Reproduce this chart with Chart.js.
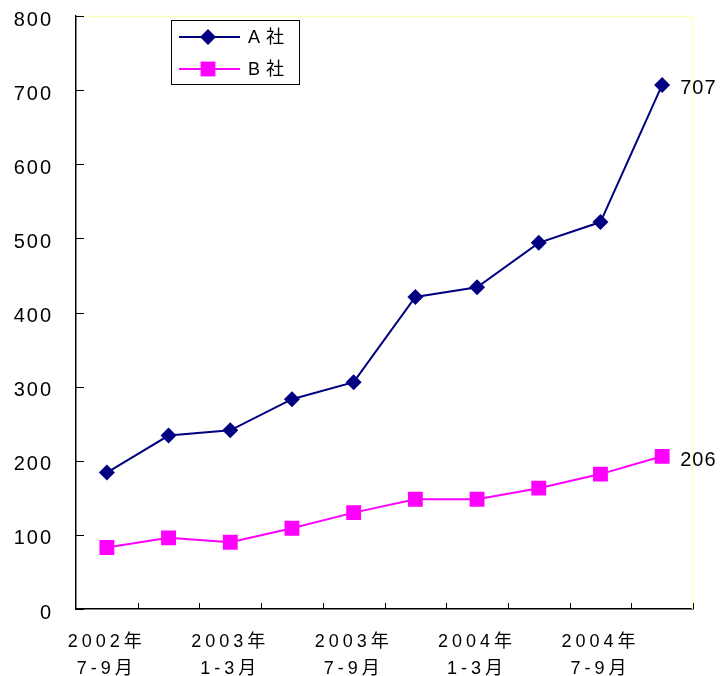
<!DOCTYPE html>
<html>
<head>
<meta charset="utf-8">
<script src="https://cdn.jsdelivr.net/npm/chart.js@4/dist/chart.umd.min.js"></script>
<style>
  html, body { margin: 0; padding: 0; background: #fff; }
  #wrap { width: 720px; height: 676px; position: relative; }
</style>
</head>
<body>
<div id="wrap"><canvas id="c"></canvas></div>
<script>
// Quarterly figures for the two companies
const quarters = [
  ['2002年', '7-9月'], ['2002年', '10-12月'],
  ['2003年', '1-3月'], ['2003年', '4-6月'],
  ['2003年', '7-9月'], ['2003年', '10-12月'],
  ['2004年', '1-3月'], ['2004年', '4-6月'],
  ['2004年', '7-9月'], ['2004年', '10-12月']
];
const seriesNames = ['A社', 'B社'];
const companyA = [184, 234, 241, 283, 306, 421, 434, 494, 522, 707];
const companyB = [83, 96, 90, 109, 130, 148, 148, 163, 182, 206];
const yTicks = [0, 100, 200, 300, 400, 500, 600, 700, 800];

const FONT = "'Liberation Sans', 'Noto Sans CJK JP', sans-serif";
const NAVY = '#000080';
const MAGENTA = '#ff00ff';

// Draw a scale's labels with a given letter spacing
function spaceLabels(scale, spacing) {
  if (scale._spaced) return;
  scale._spaced = true;
  const orig = scale.drawLabels.bind(scale);
  scale.drawLabels = function (area) {
    const ctx = this.ctx;
    const prev = ctx.letterSpacing;
    ctx.letterSpacing = spacing;
    orig(area);
    ctx.letterSpacing = prev;
  };
}

// Inward tick marks, frame, legend and end labels
const decor = {
  id: 'decor',
  beforeDatasetsDraw(chart) {
    const { ctx, chartArea: a, scales } = chart;
    ctx.save();
    // light frame on top and right
    ctx.strokeStyle = '#ffffc0';
    ctx.lineWidth = 1.5;
    ctx.beginPath();
    ctx.moveTo(a.left, a.top + 0.5);
    ctx.lineTo(a.right - 0.5, a.top + 0.5);
    ctx.lineTo(a.right - 0.5, a.bottom);
    ctx.stroke();
    // inward ticks
    ctx.strokeStyle = '#000';
    ctx.lineWidth = 1;
    ctx.beginPath();
    yTicks.forEach(v => {
      const y = Math.round(scales.y.getPixelForValue(v)) + 0.5;
      ctx.moveTo(a.left, y);
      ctx.lineTo(a.left + 8, y);
    });
    const xs = scales.x;
    for (let i = 1; i <= quarters.length; i++) {
      let x;
      if (i === quarters.length) x = a.right;
      else x = (xs.getPixelForValue(i - 1) + xs.getPixelForValue(i)) / 2;
      x = Math.round(x) + 0.5;
      ctx.moveTo(x, a.bottom);
      ctx.lineTo(x, a.bottom - 6);
    }
    ctx.stroke();
    ctx.restore();
  },
  afterDatasetsDraw(chart) {
    const { ctx } = chart;
    ctx.save();
    ctx.letterSpacing = '1px';
    // value labels at the last point of each series
    ctx.font = '20px ' + FONT;
    ctx.fillStyle = '#000';
    ctx.textAlign = 'left';
    ctx.textBaseline = 'middle';
    chart.data.datasets.forEach((ds, di) => {
      const meta = chart.getDatasetMeta(di);
      const last = meta.data[meta.data.length - 1];
      ctx.fillText(String(ds.data[ds.data.length - 1]), last.x + 18, last.y + 4);
    });
    // legend box
    const bx = 171, by = 20, bw = 128, bh = 64;
    ctx.strokeStyle = '#000';
    ctx.lineWidth = 1;
    ctx.strokeRect(bx + 0.5, by + 0.5, bw, bh);
    ctx.font = '18px ' + FONT;
    ctx.letterSpacing = '6px';
    chart.data.datasets.forEach((ds, di) => {
      const y = by + 17 + di * 32;
      ctx.strokeStyle = ds.borderColor;
      ctx.lineWidth = 2;
      ctx.beginPath();
      ctx.moveTo(bx + 8, y);
      ctx.lineTo(bx + 69, y);
      ctx.stroke();
      ctx.fillStyle = ds.pointBackgroundColor;
      ctx.beginPath();
      if (ds.pointStyle === 'rectRot') {
        const r = ds.pointRadius;
        ctx.moveTo(bx + 37, y - r); ctx.lineTo(bx + 37 + r, y);
        ctx.lineTo(bx + 37, y + r); ctx.lineTo(bx + 37 - r, y);
      } else {
        const h = ds.pointRadius * Math.SQRT1_2;
        ctx.rect(bx + 37 - h, y - h, 2 * h, 2 * h);
      }
      ctx.closePath();
      ctx.fill();
      ctx.fillStyle = '#000';
      ctx.textAlign = 'left';
      ctx.textBaseline = 'middle';
      ctx.fillText(ds.label, bx + 77, y + 1);
    });
    ctx.restore();
  }
};

new Chart(document.getElementById('c'), {
  type: 'line',
  data: {
    labels: quarters,
    datasets: [
      {
        label: seriesNames[0], data: companyA,
        borderColor: NAVY, backgroundColor: NAVY,
        pointBackgroundColor: NAVY, pointBorderColor: NAVY, pointBorderWidth: 0,
        pointStyle: 'rectRot', pointRadius: 8, borderWidth: 2, tension: 0
      },
      {
        label: seriesNames[1], data: companyB,
        borderColor: MAGENTA, backgroundColor: MAGENTA,
        pointBackgroundColor: MAGENTA, pointBorderColor: MAGENTA, pointBorderWidth: 0,
        pointStyle: 'rect', pointRadius: 10.5, borderWidth: 2, tension: 0
      }
    ]
  },
  options: {
    responsive: true,
    maintainAspectRatio: false,
    animation: false,
    devicePixelRatio: 1,
    layout: { padding: { top: 16, right: 27, left: 0, bottom: 0 } },
    plugins: { legend: { display: false }, tooltip: { enabled: false } },
    scales: {
      x: {
        offset: true,
        grid: { display: false, offset: true },
        border: { display: true, color: '#000', width: 1.5 },
        ticks: {
          autoSkip: false, maxRotation: 0, minRotation: 0,
          padding: 12, color: '#000',
          font: { family: FONT, size: 18, lineHeight: 1.5 },
          callback(value, index) { return index % 2 === 0 ? quarters[index] : ''; }
        },
        afterFit(scale) {
          scale.height = 67;
          scale.paddingLeft = 0; scale.paddingRight = 0;
          scale.paddingTop = 0; scale.paddingBottom = 0;
        },
        afterUpdate(scale) { spaceLabels(scale, '4px'); }
      },
      y: {
        min: 0, max: 800,
        grid: { display: false },
        border: { display: true, color: '#000', width: 1.5 },
        afterBuildTicks(scale) { scale.ticks = yTicks.map(v => ({ value: v })); },
        ticks: {
          padding: 15, color: '#000', labelOffset: 4,
          font: { family: FONT, size: 20 }
        },
        afterFit(scale) {
          scale.width = 76;
          scale.paddingTop = 0; scale.paddingBottom = 0;
          scale.paddingLeft = 0; scale.paddingRight = 0;
        },
        afterUpdate(scale) { spaceLabels(scale, '2px'); }
      }
    }
  },
  plugins: [decor]
});
</script>
</body>
</html>
